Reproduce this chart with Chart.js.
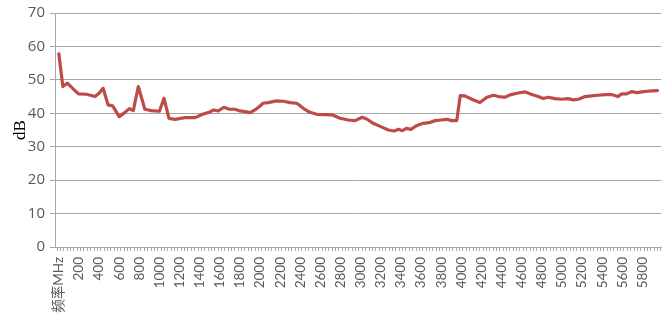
<!DOCTYPE html>
<html>
<head>
<meta charset="utf-8">
<script src="https://cdn.jsdelivr.net/npm/chart.js@4/dist/chart.umd.min.js"></script>
<style>
html,body{margin:0;padding:0;background:#fff;}
#wrap{width:665px;height:329px;}
</style>
</head>
<body>
<div id="wrap"><canvas id="c" width="665" height="329"></canvas></div>
<script>
// Frequency (MHz) and level (dB)
const freqs = [0, 40, 85, 125, 195, 275, 360, 400, 440, 490, 535, 600, 655, 700, 740, 790, 855, 920, 1000, 1045,
  1095, 1155, 1255, 1355, 1435, 1485, 1540, 1585, 1640, 1695, 1750, 1800, 1850, 1900, 1950, 2000, 2030, 2080, 2165, 2230,
  2300, 2365, 2430, 2495, 2565, 2645, 2720, 2795, 2875, 2945, 3015, 3060, 3125, 3200, 3275, 3335, 3375, 3415, 3455, 3500,
  3555, 3620, 3680, 3740, 3800, 3855, 3905, 3955, 3990, 4035, 4105, 4185, 4255, 4320, 4370, 4435, 4485, 4550, 4635, 4700,
  4765, 4815, 4865, 4930, 5000, 5060, 5115, 5165, 5230, 5295, 5360, 5430, 5495, 5555, 5595, 5645, 5695, 5745, 5795, 5845,
  5895, 5950];
const levels = [57.8, 48.0, 49.0, 47.8, 45.8, 45.7, 45.0, 46.0, 47.5, 42.5, 42.2, 39.0, 40.2, 41.4, 40.8, 48.0, 41.2, 40.8, 40.6, 44.5,
  38.5, 38.2, 38.7, 38.7, 39.8, 40.2, 41.0, 40.7, 41.8, 41.2, 41.2, 40.7, 40.5, 40.2, 41.0, 42.2, 43.0, 43.2, 43.7, 43.6,
  43.2, 43.0, 41.5, 40.3, 39.7, 39.6, 39.5, 38.5, 38.0, 37.8, 38.8, 38.3, 37.0, 36.0, 35.0, 34.7, 35.2, 34.8, 35.5, 35.2,
  36.3, 37.0, 37.2, 37.8, 38.0, 38.2, 37.8, 37.8, 45.3, 45.2, 44.2, 43.2, 44.8, 45.4, 45.0, 44.8, 45.5, 46.0, 46.4, 45.6,
  45.0, 44.4, 44.8, 44.4, 44.2, 44.4, 44.0, 44.2, 45.0, 45.2, 45.4, 45.6, 45.6, 45.0, 45.8, 45.8, 46.5, 46.2, 46.4, 46.6,
  46.7, 46.8];

// Category-axis labels (every other label shown as in the reference)
const tickValues = [0, 200, 400, 600, 800, 1000, 1200, 1400, 1600, 1800, 2000, 2200, 2400, 2600, 2800,
  3000, 3200, 3400, 3600, 3800, 4000, 4200, 4400, 4600, 4800, 5000, 5200, 5400, 5600, 5800];
const tickLabels = ["频率MHz", "200", "400", "600", "800", "1000", "1200", "1400", "1600", "1800", "2000", "2200", "2400", "2600", "2800",
  "3000", "3200", "3400", "3600", "3800", "4000", "4200", "4400", "4600", "4800", "5000", "5200", "5400", "5600", "5800"];
const yTicks = [0, 10, 20, 30, 40, 50, 60, 70];

const points = freqs.map((f, i) => ({ x: f, y: levels[i] }));
const gridGray = '#a6a6a6';
const textGray = '#595959';
const catStep = 100 / 3; // category width in MHz (minor tick spacing)

new Chart(document.getElementById('c'), {
  type: 'line',
  data: {
    datasets: [{
      data: points,
      borderColor: '#BE4B48',
      borderWidth: 3.2,
      pointRadius: 0,
      tension: 0,
      borderJoinStyle: 'round',
      borderCapStyle: 'round',
      fill: false
    }]
  },
  options: {
    responsive: false,
    animation: false,
    events: [],
    layout: { padding: { top: 13, right: 4, left: 0, bottom: 0 } },
    plugins: { legend: { display: false }, tooltip: { enabled: false } },
    scales: {
      x: {
        type: 'linear',
        min: -38,
        max: 5985,
        afterBuildTicks: (scale) => {
          const t = [];
          for (let k = 0; k * catStep - catStep / 2 <= 5985; k++) {
            t.push({ value: k * catStep - catStep / 2, lbl: false });
          }
          tickValues.forEach(v => t.push({ value: v, lbl: true }));
          t.sort((a, b) => a.value - b.value);
          scale.ticks = t;
        },
        afterFit: (scale) => {
          scale.height = 82;
          scale.paddingLeft = 0;
          scale.paddingRight = 0;
        },
        ticks: {
          autoSkip: false,
          minRotation: 90,
          maxRotation: 90,
          padding: 6,
          color: textGray,
          font: { family: "Lato, 'Noto Sans CJK SC'", size: 13.5 },
          callback: function (value) {
            const i = tickValues.indexOf(value);
            return i >= 0 ? tickLabels[i] : '';
          }
        },
        grid: {
          drawOnChartArea: false,
          drawTicks: true,
          tickLength: 4,
          tickColor: (ctx) => (ctx.tick && ctx.tick.lbl) ? 'rgba(0,0,0,0)' : gridGray,
          color: gridGray
        },
        border: { display: true, color: gridGray, width: 1 }
      },
      y: {
        type: 'linear',
        min: 0,
        max: 70,
        afterBuildTicks: (scale) => { scale.ticks = yTicks.map(v => ({ value: v })); },
        afterFit: (scale) => {
          scale.width = 55;
          scale.paddingTop = 0;
          scale.paddingBottom = 0;
        },
        ticks: {
          padding: 5,
          color: textGray,
          font: { family: "'Open Sans', Lato, sans-serif", size: 15 }
        },
        grid: {
          color: gridGray,
          lineWidth: 1,
          drawTicks: true,
          tickLength: 5
        },
        border: { display: true, color: gridGray, width: 1 },
        title: {
          display: true,
          text: 'dB',
          color: '#000',
          font: { family: "'Liberation Serif', serif", size: 17 },
          padding: { top: 10, bottom: 0 }
        }
      }
    }
  }
});
</script>
</body>
</html>
